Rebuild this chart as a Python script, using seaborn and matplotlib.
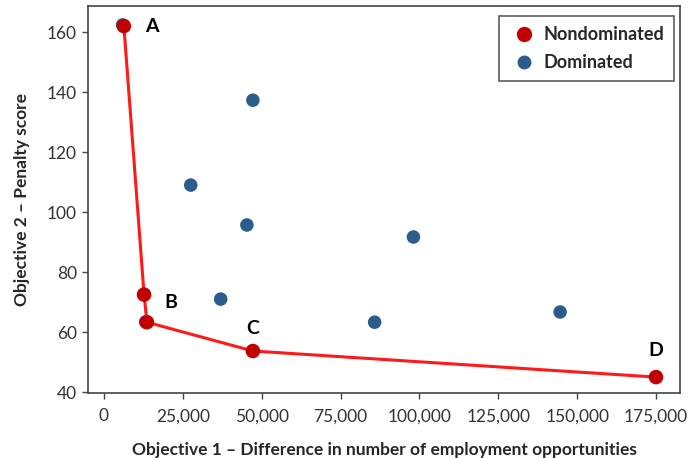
import matplotlib
matplotlib.use("Agg")
import matplotlib.pyplot as plt
import matplotlib.ticker as mticker
from matplotlib.lines import Line2D
import seaborn as sns
import pandas as pd

# Data
front_x = [6300, 12700, 13600, 47200, 175000]
front_y = [162.0, 72.5, 63.3, 53.7, 45.0]
front_labels = ["A", "", "B", "C", "D"]

dom_x = [5900, 13200, 47200, 27500, 45300, 37000, 98100, 85800, 144600]
dom_y = [162.4, 63.4, 137.3, 109.0, 95.7, 71.0, 91.7, 63.3, 66.7]

x_ticks = [0, 25000, 50000, 75000, 100000, 125000, 150000, 175000]
y_ticks = [40, 60, 80, 100, 120, 140, 160]

sns.set_theme(style="white")
plt.rcParams["font.family"] = ["Lato", "DejaVu Sans"]

df = pd.DataFrame({
    "x": front_x + dom_x,
    "y": front_y + dom_y,
    "Status": ["Nondominated"] * len(front_x) + ["Dominated"] * len(dom_x),
})
front_df = pd.DataFrame({"x": front_x, "y": front_y})

fig = plt.figure(figsize=(6.89, 4.58), dpi=100)
ax = fig.add_axes([88 / 689, 1 - 393 / 458, (680 - 88) / 689, (393 - 6) / 458])

red = "#C00000"
blue = "#2B5D8C"

sns.lineplot(data=front_df, x="x", y="y", sort=False, color="#FF1A1A",
             linewidth=2.2, ax=ax, zorder=2, legend=False)
sns.scatterplot(data=df[df.Status == "Dominated"], x="x", y="y", color=blue,
                s=95, edgecolor="none", ax=ax, zorder=3, legend=False)
sns.scatterplot(data=df[df.Status == "Nondominated"], x="x", y="y", color=red,
                s=110, edgecolor="none", ax=ax, zorder=4, legend=False)

# point labels
label_offsets = {"A": (20, 0), "B": (17, 14), "C": (0, 16.5), "D": (0, 19.5)}
for x, y, lab in zip(front_x, front_y, front_labels):
    if lab:
        dx, dy = label_offsets[lab]
        ax.annotate(lab, (x, y), xytext=(dx, dy), textcoords="offset points",
                    ha="center", va="center", fontsize=14, fontweight="bold",
                    color="black")

ax.set_xlim(-5072, 182609)
ax.set_ylim(39.7, 168.7)
ax.set_xticks(x_ticks)
ax.set_yticks(y_ticks)
ax.xaxis.set_major_formatter(mticker.FuncFormatter(lambda v, p: f"{int(v):,}"))
ax.tick_params(axis="both", which="major", bottom=True, left=True, length=4,
               width=1, color="#444444", labelsize=12.5, labelcolor="#333333",
               direction="out")
ax.tick_params(axis="x", pad=7)
ax.tick_params(axis="y", pad=4)
for s in ax.spines.values():
    s.set_color("#444444")
    s.set_linewidth(1.2)

ax.set_xlabel("Objective 1 \u2013 Difference in number of employment opportunities",
              fontsize=12.5, fontweight="bold", labelpad=13)
ax.set_ylabel("Objective 2 \u2013 Penalty score", fontsize=12.5,
              fontweight="bold", labelpad=12)

handles = [
    Line2D([], [], marker="o", linestyle="none", markersize=11,
           markerfacecolor=red, markeredgecolor="none", label="Nondominated"),
    Line2D([], [], marker="o", linestyle="none", markersize=10,
           markerfacecolor=blue, markeredgecolor="none", label="Dominated"),
]
leg = ax.legend(handles=handles, loc="upper right",
                prop={"weight": "bold", "size": 13}, frameon=True,
                fancybox=False, edgecolor="#333333", handletextpad=0.3,
                handlelength=1.6, borderpad=0.55, labelspacing=0.6,
                borderaxespad=0, bbox_to_anchor=(0.99, 0.974))
leg.get_frame().set_linewidth(1.2)

fig.savefig("out.png", dpi=100)
